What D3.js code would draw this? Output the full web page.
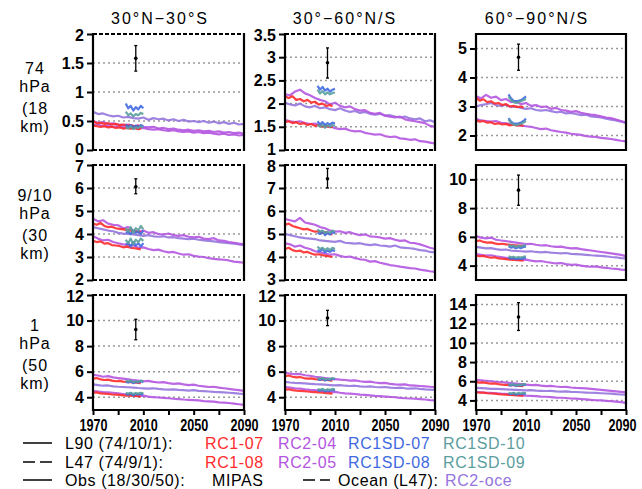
<!DOCTYPE html>
<html><head><meta charset="utf-8">
<script src="https://cdn.jsdelivr.net/npm/d3@7"></script>
<style>
body{margin:0;background:#fff;}
svg{display:block;}
.tick text{font-family:"Liberation Sans",Arial,sans-serif;font-weight:bold;font-size:16px;fill:#000;}
.lbl{font-family:"Liberation Sans",Arial,sans-serif;font-size:16px;fill:#000;}
</style></head>
<body><svg id="c" width="642" height="489"></svg>
<script>
// ---------------- data ----------------
const columnTitles = ["30°N\u221230°S", "30°\u221260°N/S", "60°\u221290°N/S"];
const rowLabels = [["74","hPa","(18","km)"],["9/10","hPa","(30","km)"],["1","hPa","(50","km)"]];
const xTickLabels = [1970, 2010, 2050, 2090];
const xMinorTicks = [1970, 1990, 2010, 2030, 2050, 2070, 2090];

const yDomains = [[0,2],[1,3.5],[1.5,5.5],[2,7],[3,8],[3,11],[3,12],[3,12],[3,15]];
const yTicks = [[0,0.5,1,1.5,2],[1,1.5,2,2.5,3,3.5],[2,3,4,5],[2,3,4,5,6,7],[3,4,5,6,7,8],[4,6,8,10],[4,6,8,10,12],[4,6,8,10,12],[4,6,8,10,12,14]];

const yearsRC2 = [1970,1974,1978,1982,1986,1990,1994,1998,2002,2006,2010,2014,2018,2022,2026,2030,2034,2038,2042,2046,2050,2054,2058,2062,2066,2070,2074,2078,2082,2086,2090];
const yearsRC1 = [1970,1973,1976,1979,1982,1985,1988,1991,1994,1997,2000,2003,2006,2008];
const yearsSD = [1996,1998,2000,2002,2004,2006,2008,2010];

// panels: r1c1, r1c2, r1c3, r2c1, r2c2, r2c3, r3c1, r3c2, r3c3
const rc2_04 = [
 [0.50,0.47,0.48,0.45,0.46,0.44,0.43,0.44,0.41,0.42,0.40,0.39,0.40,0.37,0.38,0.36,0.37,0.35,0.34,0.35,0.33,0.34,0.32,0.33,0.31,0.32,0.30,0.31,0.29,0.30,0.28],
 [2.20,2.18,2.26,2.30,2.22,2.18,2.12,2.08,2.05,1.98,2.02,1.95,1.92,1.94,1.88,1.85,1.86,1.80,1.78,1.80,1.74,1.72,1.70,1.72,1.66,1.64,1.62,1.60,1.58,1.52,1.50],
 [3.35,3.28,3.40,3.30,3.34,3.22,3.26,3.15,3.18,3.08,3.12,3.02,3.05,2.98,3.00,2.92,2.95,2.88,2.86,2.82,2.84,2.78,2.75,2.72,2.70,2.66,2.62,2.60,2.55,2.50,2.45],
 [4.66,4.55,4.60,4.45,4.40,4.38,4.25,4.30,4.15,4.10,4.15,4.05,4.08,4.00,3.98,4.02,3.95,3.92,3.95,3.88,3.85,3.88,3.80,3.78,3.82,3.72,3.70,3.65,3.62,3.58,3.55],
 [5.65,5.60,5.55,5.70,5.50,5.45,5.40,5.30,5.25,5.15,5.10,5.12,5.05,5.08,5.00,4.95,4.98,4.90,4.88,4.85,4.80,4.82,4.75,4.70,4.72,4.62,4.60,4.55,4.48,4.40,4.35],
 [6.05,5.95,5.90,5.95,5.80,5.75,5.70,5.65,5.60,5.55,5.50,5.52,5.45,5.40,5.42,5.35,5.30,5.32,5.25,5.20,5.22,5.15,5.10,5.05,5.00,4.95,4.90,4.85,4.80,4.75,4.65],
 [5.75,5.70,5.60,5.65,5.55,5.50,5.45,5.40,5.35,5.30,5.25,5.28,5.20,5.15,5.18,5.10,5.05,5.08,5.00,4.95,4.98,4.90,4.85,4.80,4.82,4.75,4.70,4.65,4.60,4.55,4.50],
 [5.90,5.85,5.80,5.82,5.72,5.68,5.60,5.55,5.50,5.45,5.42,5.38,5.35,5.30,5.32,5.25,5.20,5.22,5.15,5.10,5.12,5.05,5.00,4.98,5.00,4.92,4.90,4.88,4.85,4.82,4.80],
 [6.15,6.10,6.05,6.00,5.95,5.92,5.85,5.80,5.75,5.70,5.65,5.60,5.62,5.55,5.50,5.52,5.45,5.40,5.42,5.35,5.30,5.28,5.25,5.20,5.15,5.10,5.05,5.00,4.95,4.90,4.85]
];
const rc2_05 = [
 [0.43,0.44,0.41,0.42,0.40,0.41,0.39,0.40,0.38,0.37,0.38,0.36,0.35,0.36,0.34,0.33,0.34,0.32,0.31,0.32,0.30,0.31,0.29,0.30,0.28,0.27,0.28,0.26,0.27,0.25,0.26],
 [1.65,1.62,1.60,1.62,1.58,1.56,1.57,1.53,1.50,1.51,1.47,1.45,1.46,1.42,1.40,1.41,1.37,1.35,1.33,1.34,1.30,1.28,1.29,1.25,1.24,1.22,1.23,1.19,1.18,1.16,1.14],
 [2.58,2.52,2.50,2.48,2.50,2.44,2.42,2.40,2.38,2.34,2.32,2.30,2.26,2.22,2.24,2.18,2.15,2.12,2.10,2.06,2.04,2.02,1.98,1.96,1.95,1.92,1.90,1.88,1.85,1.82,1.80],
 [3.90,3.80,3.72,3.75,3.65,3.60,3.55,3.52,3.50,3.40,3.42,3.35,3.30,3.32,3.25,3.20,3.22,3.15,3.10,3.12,3.05,3.02,3.00,2.95,2.92,2.90,2.88,2.85,2.80,2.78,2.75],
 [4.60,4.55,4.45,4.50,4.40,4.35,4.25,4.20,4.15,4.10,4.12,4.05,4.00,4.02,3.95,3.90,3.88,3.80,3.82,3.75,3.70,3.65,3.62,3.58,3.55,3.52,3.50,3.45,3.42,3.38,3.35],
 [4.80,4.75,4.70,4.72,4.65,4.60,4.55,4.50,4.45,4.40,4.42,4.35,4.30,4.32,4.25,4.20,4.15,4.18,4.10,4.05,4.08,4.00,3.95,3.92,3.95,3.88,3.85,3.80,3.78,3.72,3.70],
 [4.50,4.45,4.40,4.38,4.35,4.30,4.25,4.20,4.15,4.10,4.12,4.05,4.00,3.98,3.95,3.92,3.88,3.85,3.82,3.80,3.78,3.75,3.70,3.68,3.65,3.60,3.58,3.55,3.50,3.45,3.40],
 [4.80,4.75,4.70,4.68,4.62,4.58,4.55,4.50,4.45,4.40,4.42,4.35,4.30,4.28,4.25,4.20,4.18,4.15,4.10,4.08,4.05,4.02,4.00,3.95,3.92,3.90,3.88,3.85,3.82,3.78,3.75],
 [4.90,4.85,4.80,4.78,4.75,4.70,4.68,4.62,4.58,4.55,4.50,4.48,4.45,4.40,4.38,4.35,4.30,4.28,4.25,4.20,4.18,4.15,4.10,4.05,4.02,4.00,3.95,3.92,3.88,3.82,3.75]
];
const rc2_oce = [
 [0.66,0.62,0.63,0.60,0.58,0.59,0.56,0.57,0.55,0.54,0.56,0.52,0.55,0.53,0.54,0.51,0.53,0.50,0.52,0.49,0.50,0.48,0.50,0.47,0.49,0.46,0.48,0.45,0.47,0.44,0.45],
 [2.02,1.98,1.96,2.00,1.94,1.92,1.95,1.90,1.92,1.88,1.86,1.90,1.85,1.82,1.84,1.80,1.82,1.78,1.76,1.78,1.74,1.75,1.72,1.70,1.72,1.68,1.66,1.68,1.62,1.64,1.60],
 [3.00,3.05,3.08,3.12,3.05,3.02,3.06,2.98,3.00,2.95,2.92,2.94,2.88,2.86,2.88,2.84,2.80,2.82,2.76,2.78,2.74,2.70,2.72,2.66,2.64,2.62,2.58,2.55,2.52,2.48,2.42],
 [4.30,4.25,4.20,4.15,4.12,4.05,4.02,4.00,3.98,3.95,3.92,3.95,3.90,3.88,3.90,3.85,3.86,3.82,3.80,3.78,3.80,3.75,3.72,3.70,3.68,3.65,3.62,3.60,3.58,3.55,3.52],
 [5.00,4.95,4.90,4.85,4.82,4.80,4.78,4.72,4.70,4.68,4.66,4.70,4.62,4.60,4.58,4.60,4.55,4.52,4.55,4.50,4.48,4.45,4.50,4.42,4.40,4.38,4.35,4.30,4.28,4.22,4.20],
 [5.30,5.25,5.20,5.22,5.15,5.10,5.12,5.05,5.02,5.00,4.98,5.00,4.95,4.92,4.95,4.90,4.88,4.85,4.88,4.82,4.80,4.78,4.75,4.72,4.70,4.68,4.65,4.60,4.58,4.52,4.50],
 [5.00,4.95,4.90,4.92,4.85,4.82,4.80,4.78,4.75,4.72,4.70,4.68,4.70,4.65,4.62,4.60,4.62,4.58,4.55,4.52,4.55,4.50,4.48,4.45,4.42,4.40,4.38,4.35,4.32,4.28,4.25],
 [5.20,5.15,5.12,5.10,5.08,5.05,5.02,5.00,4.98,4.95,4.92,4.95,4.90,4.88,4.90,4.85,4.82,4.85,4.80,4.78,4.80,4.75,4.72,4.75,4.70,4.68,4.70,4.65,4.62,4.60,4.58],
 [5.30,5.28,5.25,5.20,5.22,5.18,5.15,5.12,5.10,5.08,5.05,5.08,5.02,5.00,4.98,5.00,4.95,4.92,4.95,4.90,4.88,4.85,4.82,4.80,4.78,4.75,4.72,4.70,4.65,4.62,4.60]
];
const rc1_07 = [
 [0.50,0.46,0.47,0.45,0.46,0.44,0.45,0.43,0.44,0.42,0.43,0.41,0.42,0.40],
 [2.15,2.12,2.16,2.08,2.10,2.05,2.08,2.02,2.04,1.98,2.00,1.95,1.97,1.94],
 [3.30,3.20,3.25,3.15,3.18,3.10,3.12,3.05,3.08,3.00,3.02,2.98,3.00,2.96],
 [4.45,4.40,4.48,4.35,4.30,4.32,4.25,4.22,4.20,4.18,4.15,4.12,4.10,4.08],
 [5.40,5.45,5.35,5.30,5.25,5.20,5.22,5.15,5.10,5.12,5.05,5.08,5.00,4.98],
 [5.70,5.75,5.65,5.60,5.62,5.55,5.50,5.52,5.48,5.45,5.42,5.40,5.38,5.35],
 [5.45,5.50,5.40,5.35,5.38,5.30,5.25,5.28,5.22,5.20,5.18,5.15,5.12,5.10],
 [5.65,5.70,5.60,5.55,5.58,5.50,5.45,5.48,5.42,5.40,5.38,5.35,5.32,5.30],
 [5.90,5.85,5.88,5.80,5.75,5.78,5.70,5.65,5.62,5.60,5.58,5.55,5.52,5.50]
];
const rc1_08 = [
 [0.42,0.41,0.40,0.41,0.39,0.40,0.38,0.39,0.37,0.38,0.37,0.38,0.36,0.37],
 [1.60,1.62,1.58,1.60,1.56,1.58,1.54,1.56,1.52,1.54,1.50,1.52,1.49,1.50],
 [2.52,2.48,2.50,2.44,2.46,2.40,2.42,2.38,2.40,2.35,2.37,2.34,2.36,2.33],
 [3.70,3.65,3.68,3.58,3.60,3.52,3.50,3.48,3.42,3.45,3.40,3.38,3.35,3.33],
 [4.35,4.40,4.30,4.25,4.28,4.20,4.22,4.15,4.10,4.12,4.08,4.05,4.02,4.00],
 [4.70,4.65,4.68,4.60,4.55,4.58,4.50,4.48,4.45,4.42,4.40,4.38,4.36,4.35],
 [4.35,4.38,4.30,4.28,4.25,4.22,4.20,4.18,4.15,4.12,4.15,4.10,4.08,4.05],
 [4.60,4.62,4.55,4.52,4.50,4.48,4.45,4.42,4.40,4.38,4.35,4.32,4.30,4.28],
 [4.85,4.80,4.82,4.75,4.72,4.70,4.65,4.62,4.60,4.58,4.55,4.52,4.50,4.48]
];
const rc1sd_07 = [
 [0.80,0.72,0.76,0.68,0.74,0.70,0.76,0.72],
 [2.38,2.30,2.36,2.28,2.32,2.26,2.30,2.32],
 [3.42,3.28,3.20,3.18,3.20,3.22,3.28,3.35],
 [4.05,4.10,4.00,4.15,4.05,4.10,4.00,4.15],
 [5.05,5.00,5.10,4.95,5.05,4.98,5.08,5.02],
 [5.35,5.25,5.30,5.20,5.28,5.22,5.30,5.32],
 [5.20,5.15,5.25,5.10,5.20,5.15,5.25,5.18],
 [5.40,5.35,5.45,5.30,5.40,5.35,5.45,5.38],
 [5.60,5.55,5.65,5.50,5.60,5.55,5.65,5.58]
];
const rc1sd_08 = [
 [0.44,0.40,0.43,0.39,0.42,0.40,0.43,0.41],
 [1.62,1.55,1.60,1.54,1.58,1.55,1.59,1.57],
 [2.60,2.48,2.42,2.40,2.42,2.45,2.50,2.58],
 [3.55,3.60,3.45,3.65,3.50,3.60,3.45,3.60],
 [4.30,4.25,4.35,4.20,4.28,4.22,4.30,4.25],
 [4.55,4.48,4.52,4.45,4.50,4.46,4.52,4.55],
 [4.25,4.20,4.30,4.15,4.25,4.20,4.28,4.22],
 [4.55,4.50,4.60,4.45,4.55,4.50,4.58,4.52],
 [4.70,4.65,4.75,4.60,4.70,4.65,4.72,4.68]
];
const rc1sd_10 = [
 [0.66,0.60,0.63,0.58,0.62,0.60,0.64,0.62],
 [2.30,2.22,2.27,2.20,2.24,2.20,2.23,2.24],
 [3.35,3.22,3.15,3.12,3.15,3.18,3.22,3.26],
 [4.25,4.10,4.30,4.05,4.25,4.15,4.35,4.20],
 [5.20,5.10,5.15,5.05,5.10,5.05,5.15,5.10],
 [5.45,5.35,5.40,5.30,5.38,5.32,5.40,5.42],
 [5.30,5.22,5.30,5.18,5.25,5.20,5.30,5.25],
 [5.50,5.42,5.50,5.38,5.45,5.40,5.50,5.45],
 [5.70,5.62,5.70,5.58,5.65,5.60,5.70,5.65]
];
const rc1sd_09 = [
 [0.40,0.37,0.41,0.36,0.39,0.38,0.41,0.39],
 [1.55,1.50,1.54,1.48,1.53,1.50,1.54,1.52],
 [2.55,2.44,2.38,2.36,2.38,2.40,2.45,2.50],
 [3.75,3.60,3.80,3.55,3.75,3.65,3.80,3.70],
 [4.45,4.35,4.40,4.30,4.38,4.30,4.40,4.35],
 [4.65,4.58,4.62,4.55,4.60,4.56,4.62,4.65],
 [4.35,4.28,4.35,4.25,4.32,4.28,4.35,4.30],
 [4.65,4.58,4.65,4.55,4.62,4.58,4.65,4.60],
 [4.80,4.72,4.80,4.70,4.78,4.72,4.80,4.75]
];
const mipasYear = 2004;
const mipasVal = [1.58, 2.88, 4.70, 6.05, 7.40, 9.25, 9.30, 10.2, 12.7];
const mipasLo  = [1.36, 2.55, 4.25, 5.75, 7.00, 8.20, 8.50, 9.6, 11.3];
const mipasHi  = [1.80, 3.20, 5.15, 6.40, 7.85, 10.3, 10.1, 10.8, 14.2];

const legendRows = [
  ["L90 (74/10/1):", "RC1-07", "RC2-04", "RC1SD-07", "RC1SD-10"],
  ["L47 (74/9/1):",  "RC1-08", "RC2-05", "RC1SD-08", "RC1SD-09"]
];

// ---------------- styles / layout ----------------
const C = {red:"#ff2b2b", purple:"#b455e0", lav:"#9575dd", blue:"#4169e1", teal:"#5a9e9e"};
const colX = [93, 285, 476], colW = [151, 150, 150];
const rowY = [34, 165, 295], rowH = [116, 115, 115];

const svg = d3.select("#c");
const seriesDefs = [
  {years: yearsRC2, data: rc2_oce, color: C.lav},
  {years: yearsRC2, data: rc2_04, color: C.purple},
  {years: yearsRC2, data: rc2_05, color: C.purple},
  {years: yearsRC1, data: rc1_07, color: C.red},
  {years: yearsRC1, data: rc1_08, color: C.red},
  {years: yearsSD, data: rc1sd_07, color: C.blue},
  {years: yearsSD, data: rc1sd_08, color: C.blue},
  {years: yearsSD, data: rc1sd_10, color: C.teal},
  {years: yearsSD, data: rc1sd_09, color: C.teal}
];

for (let i = 0; i < 9; i++) {
  const r = Math.floor(i / 3), c = i % 3;
  const x0 = colX[c], x1 = colX[c] + colW[c], y0 = rowY[r], y1 = rowY[r] + rowH[r];
  const x = d3.scaleLinear().domain([1970, 2090]).range([x0, x1]);
  const y = d3.scaleLinear().domain(yDomains[i]).range([y1, y0]);
  const g = svg.append("g");
  const dom = yDomains[i], ticks = yTicks[i];

  // grid
  g.selectAll("line.grid").data(ticks.filter(t => t > dom[0] && t < dom[1])).enter()
    .append("line").attr("x1", x0).attr("x2", x1).attr("y1", d => y(d)).attr("y2", d => y(d))
    .attr("stroke", "#9a9a9a").attr("stroke-width", 1.5).attr("stroke-dasharray", "2,3");

  // series
  const line = d3.line();
  seriesDefs.forEach(s => {
    const pts = s.years.map((yr, k) => [x(yr), y(s.data[i][k])]);
    g.append("path").attr("d", line(pts)).attr("fill", "none")
      .attr("stroke", s.color).attr("stroke-width", 2.2).attr("stroke-opacity", 0.9)
      .attr("stroke-linejoin", "round");
  });

  // MIPAS
  g.append("line").attr("x1", x(mipasYear)).attr("x2", x(mipasYear))
    .attr("y1", y(mipasLo[i])).attr("y2", y(mipasHi[i])).attr("stroke", "#000").attr("stroke-width", 1.3);
  [mipasLo[i], mipasHi[i]].forEach(v => g.append("line").attr("x1", x(mipasYear) - 1.5).attr("x2", x(mipasYear) + 1.5)
    .attr("y1", y(v)).attr("y2", y(v)).attr("stroke", "#000").attr("stroke-width", 1.3));
  g.append("circle").attr("cx", x(mipasYear)).attr("cy", y(mipasVal[i])).attr("r", 1.8).attr("fill", "#000");

  // frame
  const onTickTop = ticks.includes(dom[1]), onTickBot = ticks.includes(dom[0]);
  g.append("line").attr("x1", x0).attr("x2", x0).attr("y1", y0 - 1).attr("y2", y1 + 1).attr("stroke", "#000").attr("stroke-width", 2.2);
  g.append("line").attr("x1", x1).attr("x2", x1).attr("y1", y0 - 1).attr("y2", y1 + 1).attr("stroke", "#000").attr("stroke-width", 2.2);
  g.append("line").attr("x1", x0).attr("x2", x1).attr("y1", y0).attr("y2", y0).attr("stroke", "#000")
    .attr("stroke-width", 2.2).attr("stroke-dasharray", onTickTop ? "4,2" : null);
  g.append("line").attr("x1", x0).attr("x2", x1).attr("y1", y1).attr("y2", y1).attr("stroke", "#000")
    .attr("stroke-width", 2.2).attr("stroke-dasharray", onTickBot ? "4,2" : null);

  // y axis
  const ya = svg.append("g").attr("transform", `translate(${x0},0)`)
    .call(d3.axisLeft(y).tickValues(ticks).tickSize(6).tickPadding(3).tickFormat(d3.format("~g")));
  ya.select(".domain").remove();
  ya.selectAll(".tick line").attr("stroke", "#000").attr("stroke-width", 2);
  ya.selectAll(".tick text").attr("dy", d => d === dom[1] ? "0.4em" : (d === dom[0] ? "0.25em" : "0.32em"));

  // x axis on bottom row
  if (r === 2) {
    const xa = svg.append("g").attr("transform", `translate(0,${y1})`)
      .call(d3.axisBottom(x).tickValues(xMinorTicks).tickSize(5).tickPadding(5)
        .tickFormat(d => xTickLabels.includes(d) ? d : ""));
    xa.select(".domain").remove();
    xa.selectAll(".tick line").attr("stroke", "#000").attr("stroke-width", 2);
    xa.selectAll(".tick text").filter(d => xTickLabels.includes(d))
      .attr("textLength", 28).attr("lengthAdjust", "spacingAndGlyphs");
    if (c === 2) {
      // keep the last label inside the page edge
      xa.selectAll(".tick text").filter(d => d === 2090).attr("text-anchor", "end").attr("x", 10);
    }
  }
}

// column titles
const titleX = [160, 345, 537];
columnTitles.forEach((t, c) => svg.append("text").attr("class", "lbl").attr("x", titleX[c]).attr("y", 24)
  .attr("text-anchor", "middle").attr("font-size", 16.5).attr("letter-spacing", 2).text(t));

// row labels
const rowLabelY = [[68, 86, 108, 126], [195, 213, 235, 253], [325, 343, 365, 383]];
rowLabels.forEach((lines, r) => lines.forEach((t, k) =>
  svg.append("text").attr("class", "lbl").attr("x", 35).attr("y", rowLabelY[r][k])
    .attr("text-anchor", "middle").attr("dominant-baseline", "central").attr("letter-spacing", 1).text(t)));

// legend
const legY = [443, 462, 480];
const legX = [65, 205, 278, 348, 443];
const legColors = ["#000", C.red, C.purple, C.blue, C.teal];
const lg = svg.append("g");
function legLine(xa, xb, yy, dashed) {
  lg.append("line").attr("x1", xa).attr("x2", xb).attr("y1", yy).attr("y2", yy).attr("stroke", "#000")
    .attr("stroke-width", 1.5).attr("stroke-dasharray", dashed ? "12,5" : null);
}
function legText(xx, yy, t, col) {
  lg.append("text").attr("class", "lbl").attr("x", xx).attr("y", yy).attr("dominant-baseline", "central")
    .attr("fill", col).style("fill", col).attr("letter-spacing", 0.6).text(t);
}
legendRows.forEach((row, r) => {
  legLine(23, 52, legY[r], r === 1);
  row.forEach((t, k) => legText(legX[k], legY[r], t, legColors[k]));
});
legLine(23, 52, legY[2], false);
legText(65, legY[2], "Obs (18/30/50):", "#000");
legText(212, legY[2], "MIPAS", "#000");
legLine(303, 330, legY[2], true);
legText(338, legY[2], "Ocean (L47):", "#000");
legText(445, legY[2], "RC2-oce", C.lav);
</script></body></html>
